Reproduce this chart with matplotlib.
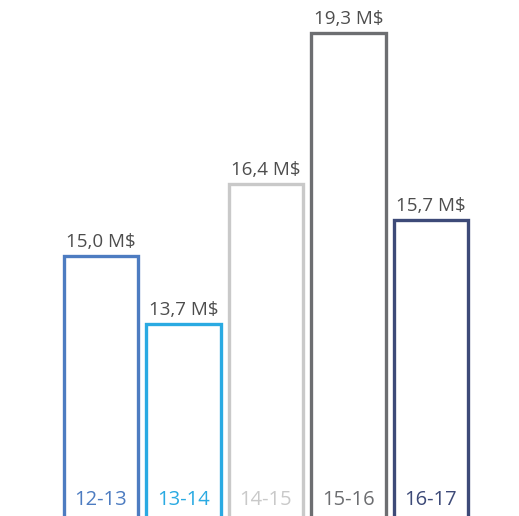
import numpy as np
import matplotlib.pyplot as plt

seasons = ["12-13", "13-14", "14-15", "15-16", "16-17"]
values = [15.0, 13.7, 16.4, 19.3, 15.7]
labels = ["15,0 M$", "13,7 M$", "16,4 M$", "19,3 M$", "15,7 M$"]
colors = ["#4d7cc1", "#2aaae2", "#c9c9c9", "#6d6e71", "#3d4a78"]

plt.rcParams['font.family'] = ['Open Sans', 'DejaVu Sans']

fig = plt.figure(figsize=(5.19, 5.16), dpi=100)
ax = fig.add_axes([0, 0, 1, 1])
x = np.arange(len(seasons))
base = 9.0
ax.bar(x, np.array(values) - base, bottom=base, width=0.9, facecolor="none",
       edgecolor=colors, linewidth=2.4)
for xi, v, lab, c, s in zip(x, values, labels, colors, seasons):
    ax.text(xi, v + 0.1, lab, ha="center", va="bottom", fontsize=13.5, color="#4d4d4d")
    ax.text(xi, 10.12, s, ha="center", va="bottom", fontsize=14.5, color=c)

ax.set_xlim(-1.224, 5.067)
ax.set_ylim(10, 19.94)
ax.axis("off")
fig.savefig("out.png", dpi=100)
